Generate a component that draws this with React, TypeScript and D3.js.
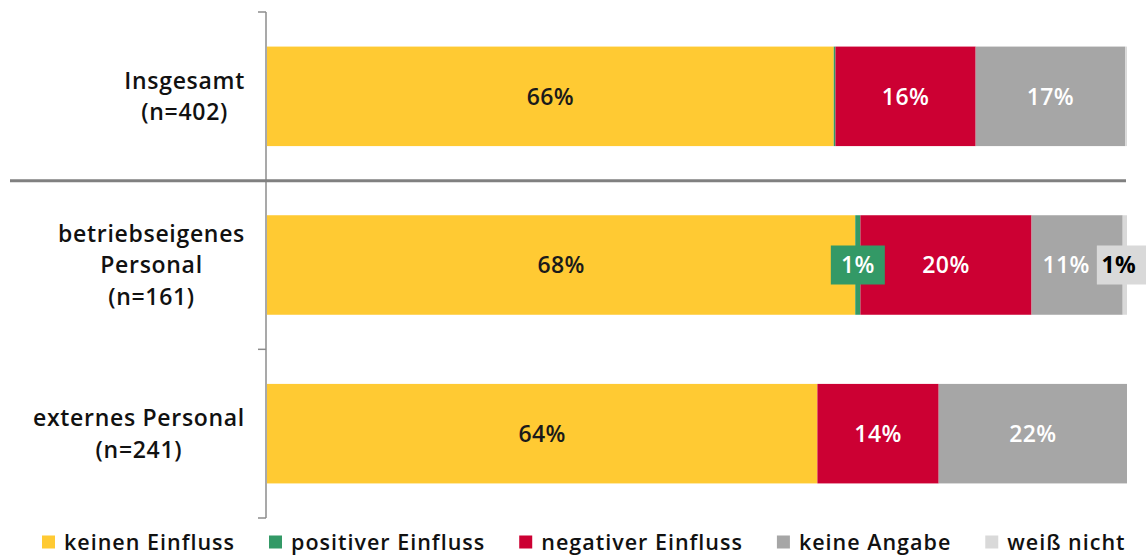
import React from "react";
import * as d3 from "d3";

const categories = ["Insgesamt (n=402)", "betriebseigenes Personal (n=161)", "externes Personal (n=241)"];
const categoryLines = [["Insgesamt", "(n=402)"], ["betriebseigenes", "Personal", "(n=161)"], ["externes Personal", "(n=241)"]];
const seriesNames = ["keinen Einfluss", "positiver Einfluss", "negativer Einfluss", "keine Angabe", "weiß nicht"];
const keinenEinfluss = [65.9, 68.4, 64.0];
const positiverEinfluss = [0.2, 0.6, 0.0];
const negativerEinfluss = [16.3, 19.9, 14.1];
const keineAngabe = [17.4, 10.6, 21.9];
const weissNicht = [0.2, 0.5, 0.0];
const labels = [
  ["66%", "", "16%", "17%", ""],
  ["68%", "1%", "20%", "11%", "1%"],
  ["64%", "", "14%", "22%", ""],
];
const colors = ["#FFCA33", "#339966", "#CC0033", "#A6A6A6", "#D9D9D9"];
const textColors = ["#1a1a1a", "#ffffff", "#ffffff", "#ffffff", "#000000"];

const W = 1146, H = 556;
const FONT = "'Open Sans', 'Noto Sans', sans-serif";

function measure(text: string, font: string, spacing: number) {
  if (typeof document === "undefined") return text.length * 10;
  const c = document.createElement("canvas");
  const ctx = c.getContext("2d")!;
  ctx.font = font;
  return ctx.measureText(text).width + spacing * text.length;
}

export default function App() {
  const series = [keinenEinfluss, positiverEinfluss, negativerEinfluss, keineAngabe, weissNicht];
  const rows = categories.map((c, i) => {
    const o: any = { cat: c };
    seriesNames.forEach((s, j) => (o[s] = series[j][i]));
    return o;
  });
  const stack = d3.stack<any>().keys(seriesNames)(rows);
  const x = d3.scaleLinear().domain([0, 100]).range([267, 1127]);
  const y = d3.scaleBand<string>().domain(categories).range([12, 518]).paddingInner(0.41).paddingOuter(0.205);
  const step = y.step();
  const axisX = 266;

  const catSize = 23, catLS = 0.7;
  const catFont = `600 ${catSize}px ${FONT}`;
  const valSize = 23, valLS = 0.4;
  const legSize = 21.5, legLS = 1.0;
  const legFont = `600 ${legSize}px ${FONT}`;

  return (
    <svg width={W} height={H} style={{ position: "absolute", left: 0, top: 0, background: "#fff" }} fontFamily={FONT}>
      {/* bars */}
      {stack.map((layer, j) => (
        <g key={j} fill={colors[j]}>
          {layer.map((d, i) => {
            const w = x(d[1]) - x(d[0]);
            if (w <= 0) return null;
            return <rect key={i} x={x(d[0])} y={y(categories[i])!} width={w} height={y.bandwidth()} />;
          })}
        </g>
      ))}
      {/* value labels */}
      {stack.map((layer, j) => (
        <g key={"l" + j}>
          {layer.map((d, i) => {
            const t = labels[i][j];
            if (!t) return null;
            const cy = y(categories[i])! + y.bandwidth() / 2;
            let cx = (x(d[0]) + x(d[1])) / 2;
            const small = d[1] - d[0] < 2;
            if (j === 3 && labels[i][4]) cx -= 11;
            if (j === 4) cx -= 6;
            return (
              <g key={i}>
                {small && (
                  <rect x={j === 4 ? cx - 22 : cx - 27} y={cy - 19.5} width={j === 4 ? 60 : 54} height={39} fill={colors[j]} />
                )}
                <text x={cx} y={cy} dy="0.36em" textAnchor="middle" fontSize={valSize} letterSpacing={valLS} fontWeight={j === 4 ? 700 : 600} fill={textColors[j]}>
                  {t}
                </text>
              </g>
            );
          })}
        </g>
      ))}
      {/* axis */}
      <line x1={axisX} x2={axisX} y1={12} y2={518} stroke="#8c8c8c" strokeWidth={1.5} />
      {[0, 2, 3].map((k) => (
        <line key={k} x1={258} x2={axisX} y1={12 + k * step} y2={12 + k * step} stroke="#8c8c8c" strokeWidth={1.5} />
      ))}
      <line x1={10} x2={1126} y1={12 + step} y2={12 + step} stroke="#808080" strokeWidth={3} />
      {/* category labels */}
      {categoryLines.map((lines, i) => {
        const maxW = Math.max(...lines.map((l) => measure(l, catFont, catLS)));
        const cx = 245 - maxW / 2;
        const cy = y(categories[i])! + y.bandwidth() / 2;
        const lh = 31.5;
        return (
          <text key={i} textAnchor="middle" fontSize={catSize} letterSpacing={catLS} fontWeight={600} fill="#111">
            {lines.map((l, k) => (
              <tspan key={k} x={cx} y={cy + (k - (lines.length - 1) / 2) * lh} dy="0.36em">
                {l}
              </tspan>
            ))}
          </text>
        );
      })}
      {/* legend */}
      {(() => {
        let cur = 42;
        return seriesNames.map((s, j) => {
          const gx = cur;
          const tw = measure(s, legFont, legLS);
          cur += 22 + tw + 34;
          return (
            <g key={s} transform={`translate(${gx},542)`}>
              <rect x={0} y={-6.5} width={13} height={13} fill={colors[j]} />
              <text x={22} y={0} dy="0.36em" fontSize={legSize} letterSpacing={legLS} fontWeight={600} fill="#111">
                {s}
              </text>
            </g>
          );
        });
      })()}
    </svg>
  );
}
